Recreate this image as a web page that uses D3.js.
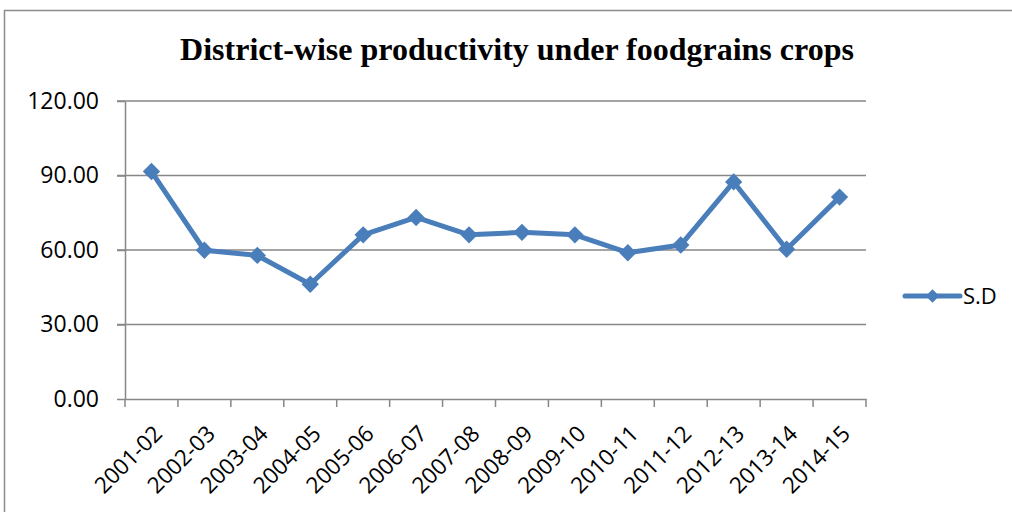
<!DOCTYPE html>
<html>
<head>
<meta charset="utf-8">
<script src="https://cdn.jsdelivr.net/npm/d3@7"></script>
<style>
    body { margin: 0; background: #fff; overflow: hidden; }
    svg { display: block; }
</style>
</head>
<body>
<div id="chart"></div>
<script>
    var years = ["2001-02", "2002-03", "2003-04", "2004-05", "2005-06", "2006-07", "2007-08",
        "2008-09", "2009-10", "2010-11", "2011-12", "2012-13", "2013-14", "2014-15"];
    var sdValues = [91.6, 59.9, 57.8, 46.2, 66.1, 73.1, 66.1, 67.1, 66.1, 58.9, 62.0, 87.4, 60.3, 81.3];
    var yTicks = [0, 30, 60, 90, 120];
    var seriesName = "S.D";
    var chartTitle = "District-wise productivity under foodgrains crops";

    var svgWidth = 1012, svgHeight = 512;
    var margin = {top: 101, left: 125, right: 146, bottom: 113};
    var width = svgWidth - margin.left - margin.right;
    var height = svgHeight - margin.top - margin.bottom;
    var blue = "#4a7ebb";

    var svg = d3.select("#chart").append("svg")
        .attr("width", svgWidth)
        .attr("height", svgHeight);

    // chart frame (only left and top edges are in view)
    svg.append("path")
        .attr("d", "M4.5," + svgHeight + "V10.5H" + svgWidth)
        .attr("fill", "none")
        .attr("stroke", "#8c8c8c")
        .attr("stroke-width", 1.5);

    svg.append("text")
        .attr("x", 517).attr("y", 60)
        .attr("text-anchor", "middle")
        .style("font-family", "'Liberation Serif', 'Times New Roman', serif")
        .style("font-weight", "bold")
        .style("font-size", "32px")
        .text(chartTitle);

    var g = svg.append("g")
        .attr("transform", "translate(" + margin.left + "," + margin.top + ")");

    var x = d3.scaleBand().domain(years).range([0, width]);
    var y = d3.scaleLinear().domain([0, 120]).range([height, 0]);

    // gridlines
    g.append("g").selectAll("line")
        .data(yTicks.filter(d => d > 0))
        .enter().append("line")
        .attr("x1", -8).attr("x2", width)
        .attr("y1", d => y(d)).attr("y2", d => y(d))
        .attr("stroke", "#878787")
        .attr("stroke-width", 1.5);

    var yAxis = g.append("g")
        .call(d3.axisLeft(y).tickValues(yTicks).tickSize(8).tickSizeOuter(0).tickPadding(18)
            .tickFormat(d3.format(".2f")));
    yAxis.select(".domain").attr("stroke", "#878787").attr("stroke-width", 1.5);
    yAxis.selectAll(".tick line").attr("stroke", "#878787").attr("stroke-width", 1.5);
    yAxis.selectAll("text")
        .style("font-family", "'Open Sans', sans-serif")
        .style("font-size", "23px")
        .attr("fill", "#000");

    var xAxis = g.append("g")
        .attr("transform", "translate(0," + height + ")")
        .call(d3.axisBottom(x).tickSize(0).tickFormat(""));
    xAxis.select(".domain").attr("stroke", "#878787").attr("stroke-width", 1.5);

    // tick marks at category boundaries
    var bounds = years.map(d => x(d)).concat([width]);
    xAxis.selectAll(".bound")
        .data(bounds)
        .enter().append("line")
        .attr("class", "bound")
        .attr("x1", d => d).attr("x2", d => d)
        .attr("y1", 0).attr("y2", 8)
        .attr("stroke", "#878787")
        .attr("stroke-width", 1.5);

    xAxis.selectAll(".lbl")
        .data(years)
        .enter().append("text")
        .attr("class", "lbl")
        .attr("transform", d => "translate(" + (x(d) + x.bandwidth() / 2 + 1) + ",25) rotate(-45)")
        .attr("text-anchor", "end")
        .attr("dy", "0.7em")
        .style("font-family", "'Open Sans', sans-serif")
        .style("font-size", "22.5px")
        .attr("fill", "#000")
        .text(d => d);

    var line = d3.line()
        .x((d, i) => x(years[i]) + x.bandwidth() / 2)
        .y(d => y(d));

    g.append("path")
        .datum(sdValues)
        .attr("d", line)
        .attr("fill", "none")
        .attr("stroke", blue)
        .attr("stroke-width", 5)
        .attr("stroke-linejoin", "round");

    var diamond = d3.symbol().type(d3.symbolSquare).size(150);
    g.selectAll(".marker")
        .data(sdValues)
        .enter().append("path")
        .attr("class", "marker")
        .attr("d", diamond)
        .attr("transform", (d, i) => "translate(" + (x(years[i]) + x.bandwidth() / 2) + "," + y(d) + ") rotate(45)")
        .attr("fill", blue);

    // legend
    var legend = svg.append("g").attr("transform", "translate(905,296)");
    legend.append("line")
        .attr("x1", 0).attr("x2", 55)
        .attr("stroke", blue).attr("stroke-width", 5)
        .attr("stroke-linecap", "round");
    legend.append("path")
        .attr("d", d3.symbol().type(d3.symbolSquare).size(90))
        .attr("transform", "translate(27.5,0) rotate(45)")
        .attr("fill", blue);
    legend.append("text")
        .attr("x", 58).attr("y", 0).attr("dy", "0.35em")
        .style("font-family", "'Open Sans', sans-serif")
        .style("font-size", "22px")
        .text(seriesName);
</script>
</body>
</html>
